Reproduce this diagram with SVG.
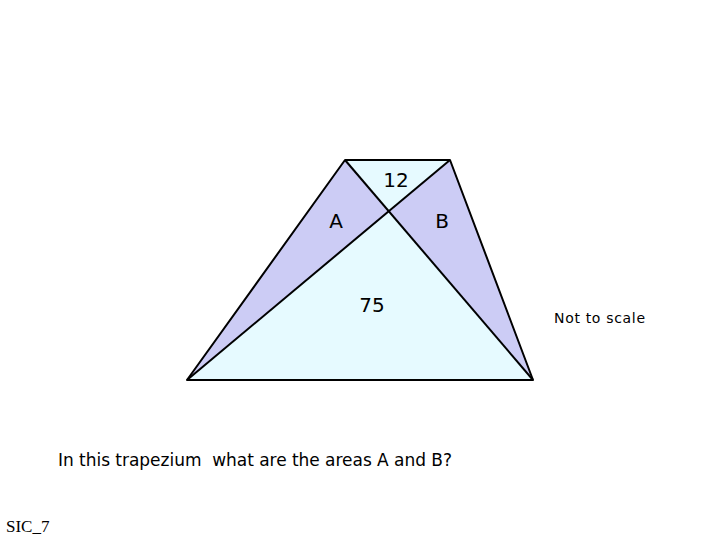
<svg xmlns="http://www.w3.org/2000/svg" width="720" height="540" viewBox="0 0 720 540">
<style>
.lbl{font-family:"DejaVu Sans","Liberation Sans",sans-serif;font-size:20px;fill:#000;text-anchor:middle}
.txt{font-family:"DejaVu Sans","Liberation Sans",sans-serif;fill:#000;white-space:pre}
.edge{stroke:#000;stroke-width:2;fill:none;stroke-linejoin:round}
</style>
<rect width="720" height="540" fill="#fff"/>
<g id="trapezium">
<polygon points="345,160 450,160 533,380 187,380" fill="#e6faff"/>
<polygon id="regionA" points="345,160 389,212 187,380" fill="#ccccf5"/>
<polygon id="regionB" points="450,160 389,212 533,380" fill="#ccccf5"/>
</g>
<g id="connectors">
<polygon class="edge" points="345,160 450,160 533,380 187,380"/>
<line class="edge" x1="345" y1="160" x2="533" y2="380"/>
<line class="edge" x1="450" y1="160" x2="187" y2="380"/>
</g>
<g id="labels">
<text class="lbl" x="396" y="187">12</text>
<text class="lbl" x="336" y="228">A</text>
<text class="lbl" x="442" y="228">B</text>
<text class="lbl" x="372" y="312">75</text>
</g>
<text class="txt" x="554" y="323" font-size="14" textLength="91">Not to scale</text>
<text class="txt" x="58" y="466" font-size="17" textLength="394" xml:space="preserve">In this trapezium  what are the areas A and B?</text>
<text x="6" y="532" font-family="Liberation Serif,serif" font-size="17" fill="#000">SIC_7</text>
</svg>
